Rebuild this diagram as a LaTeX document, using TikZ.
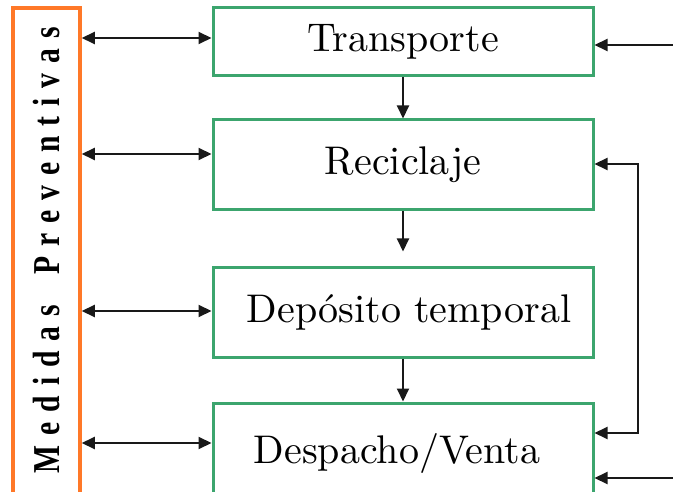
\documentclass[tikz,border=0pt]{standalone}
\usepackage{fontspec}
\newfontfamily\medfont{Liberation Serif}
\newfontfamily\boxfont{lmroman10-regular}[Extension=.otf]
\usetikzlibrary{arrows.meta}
\definecolor{boxgreen}{RGB}{60,165,110}
\definecolor{boxorange}{RGB}{255,120,40}
\definecolor{arrowgray}{RGB}{25,25,25}
\begin{document}
\begin{tikzpicture}[x=1pt,y=-1pt,
  stagebox/.style={draw=boxgreen, line width=3pt, minimum width=380pt, inner sep=0pt, font=\boxfont\fontsize{40}{48}\selectfont, fill=white},
  medbox/.style={draw=boxorange, line width=3.5pt, minimum width=67pt, minimum height=492pt, inner sep=0pt},
  conn/.style={draw=arrowgray, line width=2pt, -{Triangle[length=13pt,width=12pt]}},
  dconn/.style={draw=arrowgray, line width=2pt, {Triangle[length=13pt,width=12pt]}-{Triangle[length=13pt,width=12pt]}}]
\useasboundingbox (0,0) rectangle (673,492);
\clip (0,0) rectangle (673,492);
\fill[white] (0,0) rectangle (673,492);

\node[medbox] (m) at (46.5,254) {\rotatebox{90}{\medfont\bfseries\fontsize{38}{38}\selectfont\scalebox{0.78}[1]{\makebox[582pt]{\hspace*{10pt}M\hfill e\hfill d\hfill i\hfill d\hfill a\hfill s\hfill\hfill\hfill P\hfill r\hfill e\hfill v\hfill e\hfill n\hfill t\hfill i\hfill v\hfill a\hfill s}}}};

\node[stagebox, minimum height=68pt] (t) at (403,42) {Transporte};
\node[stagebox, minimum height=90pt] (r) at (403,165) {Reciclaje};
\node[stagebox, minimum height=89pt] (d) at (403,312.5) {\hspace*{12pt}Depósito temporal};
\node[stagebox, minimum height=100pt] (v) at (403,453) {Despacho/Venta\hspace*{12pt}};

\path ([yshift=4pt]t.west) coordinate (a1);
\path ([yshift=11pt]r.west) coordinate (a2);
\path ([yshift=1.5pt]d.west) coordinate (a3);
\path ([yshift=10pt]v.west) coordinate (a4);
\draw[dconn] (a1 -| m.east) -- (a1);
\draw[dconn] (a2 -| m.east) -- (a2);
\draw[dconn] (a3 -| m.east) -- (a3);
\draw[dconn] (a4 -| m.east) -- (a4);

\draw[conn] (t.south) -- (r.north);
\draw[conn] (r.south) -- ([yshift=15pt]d.north);
\draw[conn] (d.south) -- (v.north);

\coordinate (in1) at (673,45);
\draw[conn] (in1) -- (in1 -| t.east);
\coordinate (rc) at (638,164);
\coordinate (vc) at (638,433);
\draw[dconn] (rc -| r.east) -- (rc) -- (vc) -- (vc -| v.east);
\coordinate (in2) at (673,478);
\draw[conn] (in2) -- (in2 -| v.east);
\end{tikzpicture}
\end{document}
